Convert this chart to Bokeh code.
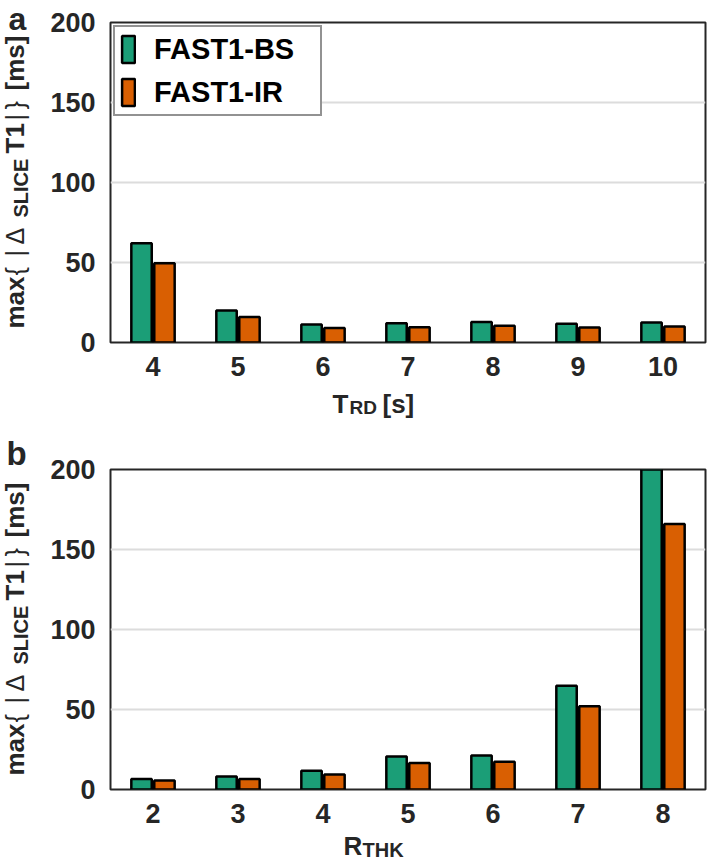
import math
from bokeh.plotting import figure
from bokeh.models import Range1d, FactorRange, Label, Legend, LegendItem, ColumnDataSource
from bokeh.transform import dodge
from bokeh.layouts import column, row
from bokeh.embed import file_html
from bokeh.resources import INLINE

# ---------------- data ----------------
trd_labels = ["4", "5", "6", "7", "8", "9", "10"]
trd_bs = [62, 20, 11.3, 12, 12.8, 11.7, 12.5]
trd_ir = [49.5, 16, 9, 9.5, 10.4, 9.4, 10]

rthk_labels = ["2", "3", "4", "5", "6", "7", "8"]
rthk_bs = [6.6, 8.1, 11.7, 20.6, 21.3, 64.8, 215]
rthk_ir = [5.6, 6.6, 9.4, 16.5, 17.3, 52, 166]

y_ticks = [0, 50, 100, 150, 200]
series_names = ["FAST1-BS", "FAST1-IR"]

GREEN = "#1b9e77"
ORANGE = "#d95f02"
DARK = "#262626"
FONT = "Liberation Sans"


def txt(p, s, x, y, size, bold=True, angle=0.0):
    p.add_layout(Label(x=x, y=y, x_units="screen", y_units="screen", text=s,
                       text_font=FONT, text_font_size=f"{size}px",
                       text_font_style="bold" if bold else "normal",
                       text_color=DARK, angle=angle,
                       text_align="left", text_baseline="alphabetic"))


def strip(w, h, left=0, right=0):
    s = figure(width=w, height=h, x_range=Range1d(0, 1), y_range=Range1d(0, 1),
               x_axis_location=None, y_axis_location=None, min_border=0,
               min_border_left=left, min_border_right=right,
               output_backend="svg", toolbar_location=None)
    s.outline_line_color = None
    s.grid.visible = False
    s.background_fill_color = "white"
    s.border_fill_color = "white"
    return s


def main_panel(cats, bs, ir, height, top):
    p = figure(width=665, height=height, x_range=FactorRange(*cats),
               y_range=Range1d(0, 200), output_backend="svg",
               toolbar_location=None, min_border_left=66, min_border_right=4,
               min_border_top=top, min_border_bottom=43)
    p.background_fill_color = "white"
    p.border_fill_color = "white"
    p.outline_line_color = DARK
    p.outline_line_width = 2
    p.xgrid.grid_line_color = None
    p.ygrid.grid_line_color = "#dcdcdc"
    p.ygrid.grid_line_width = 2
    p.yaxis.ticker = y_ticks
    for ax in (p.xaxis[0], p.yaxis[0]):
        ax.axis_line_color = None
        ax.major_tick_line_color = None
        ax.minor_tick_line_color = None
        ax.major_label_text_font = FONT
        ax.major_label_text_font_size = "27px"
        ax.major_label_text_font_style = "bold"
        ax.major_label_text_color = DARK
    p.xaxis.major_label_standoff = 8
    p.yaxis.major_label_standoff = 9

    src = ColumnDataSource(dict(cat=cats, bs=bs, ir=ir))
    r1 = p.vbar(x=dodge("cat", -0.135, range=p.x_range), top="bs", width=0.24,
                source=src, fill_color=GREEN, line_color="black", line_width=2.5)
    r2 = p.vbar(x=dodge("cat", 0.135, range=p.x_range), top="ir", width=0.24,
                source=src, fill_color=ORANGE, line_color="black", line_width=2.5)
    return p, r1, r2


def ylabel(s, y0):
    a = math.pi / 2
    bx = 14
    txt(s, "max", bx, y0 + 14, 26, True, a)
    txt(s, "{", bx, y0 + 67, 25, False, a)
    txt(s, "|", bx, y0 + 86, 25, False, a)
    txt(s, "Δ", bx, y0 + 98, 25, False, a)
    txt(s, "SLICE", bx + 6, y0 + 125, 20, True, a)
    txt(s, "T1", bx, y0 + 189, 26, True, a)
    txt(s, "|", bx, y0 + 222, 25, False, a)
    txt(s, "}", bx, y0 + 233, 25, False, a)
    txt(s, "[ms]", bx, y0 + 252, 26, True, a)


H = 865
# left strip spanning the whole height: panel letters and y labels
left = strip(44, H)
txt(left, "a", 8, H - 28 + 10, 32)
ylabel(left, H - 342)
txt(left, "b", 6, H - 463 + 10, 33)
ylabel(left, H - 789)

# ---------------- panel a ----------------
pa, ra1, ra2 = main_panel(trd_labels, trd_bs, trd_ir, 385, 22)
xa = strip(665, 43, 66, 4)
txt(xa, "T", 222, 25, 26)
txt(xa, "RD", 239, 21, 19)
txt(xa, "[s]", 272, 25, 26)

legend = Legend(items=[LegendItem(label=series_names[0], renderers=[ra1]),
                       LegendItem(label=series_names[1], renderers=[ra2])],
                location="top_left", margin=3, padding=5, spacing=9,
                glyph_width=16, glyph_height=34, label_height=34,
                label_width=161, label_standoff=18,
                label_text_font=FONT, label_text_font_size="29px",
                label_text_font_style="bold", label_text_color="black",
                border_line_color=DARK, border_line_width=2,
                background_fill_color="white", background_fill_alpha=1)
pa.add_layout(legend)

# ---------------- panel b ----------------
pb, rb1, rb2 = main_panel(rthk_labels, rthk_bs, rthk_ir, 404, 41)
xb = strip(665, 33, 66, 4)
txt(xb, "R", 233, 20, 26)
txt(xb, "THK", 252, 16, 20)

right = column(pa, xa, pb, xb, spacing=0)
layout = row(left, right, spacing=0)
open("out.html", "w").write(file_html(layout, INLINE))
